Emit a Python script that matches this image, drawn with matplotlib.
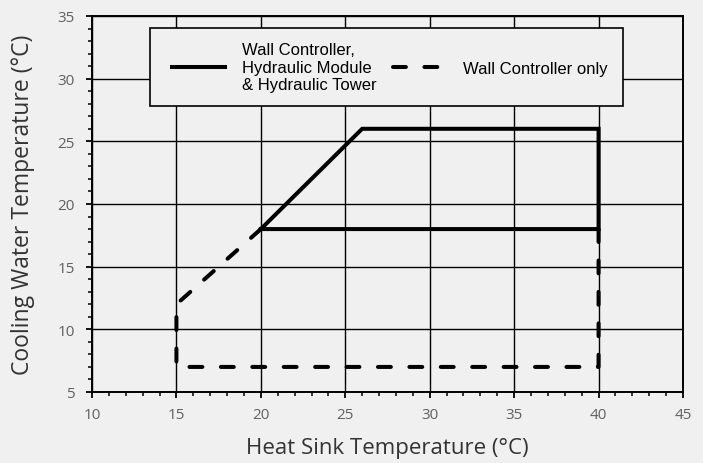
"""
Operating range: cooling water temperature vs heat sink temperature.
Output: out.png
"""

import matplotlib
matplotlib.use('Agg')
import matplotlib.pyplot as plt
from matplotlib.ticker import MultipleLocator
from matplotlib.lines import Line2D
from matplotlib.patches import Rectangle

# Envelope with wall controller + hydraulic module & tower (solid)
solid_x = [20, 26, 40, 40, 20]
solid_y = [18, 26, 26, 18, 18]

# Extended envelope with wall controller only (dashed)
dash_x = [40, 40, 15, 15, 20]
dash_y = [18, 7, 7, 12, 18]

x_ticks = [10, 15, 20, 25, 30, 35, 40, 45]
y_ticks = [5, 10, 15, 20, 25, 30, 35]

label_solid = "Wall Controller,\nHydraulic Module\n& Hydraulic Tower"
label_dash = "Wall Controller only"

BG = '#f0f0f0'
TICK_FONT = ['Open Sans', 'DejaVu Sans']
LEG_FONT = ['Liberation Sans', 'DejaVu Sans']

# pixel geometry of the axes (figure is 703 x 464 px)
AX_L, AX_R, AX_T, AX_B = 92, 683, 17, 393


def px_to_axes(px, py):
    return (px - AX_L) / (AX_R - AX_L), 1 - (py - AX_T) / (AX_B - AX_T)


def main():
    fig = plt.figure(figsize=(7.03, 4.64), dpi=100, facecolor=BG)
    ax = fig.add_axes([AX_L / 703, 1 - AX_B / 464,
                       (AX_R - AX_L) / 703, (AX_B - AX_T) / 464])
    ax.set_facecolor(BG)

    lw = 2.9
    dash = (3.2, 4.6)
    ax.plot(solid_x, solid_y, color='black', lw=lw, solid_joinstyle='miter',
            zorder=4)
    ax.plot(dash_x, dash_y, color='black', lw=lw, dashes=dash,
            dash_capstyle='round', zorder=4)

    ax.set_xlim(x_ticks[0], x_ticks[-1])
    ax.set_ylim(y_ticks[0], y_ticks[-1])
    ax.set_xticks(x_ticks)
    ax.set_yticks(y_ticks)
    ax.xaxis.set_minor_locator(MultipleLocator(1))
    ax.yaxis.set_minor_locator(MultipleLocator(1))
    ax.grid(True, which='major', color='black', lw=1.0)
    ax.set_axisbelow(True)

    for s in ax.spines.values():
        s.set_linewidth(1.4)
        s.set_color('black')
    ax.tick_params(which='major', length=4.5, width=1.3, color='black',
                   labelsize=11, labelcolor='#606060', pad=6)
    ax.tick_params(which='minor', length=3.2, width=1.1, color='black')
    ax.tick_params(axis='y', which='major', pad=8)
    for t in ax.get_xticklabels() + ax.get_yticklabels():
        t.set_family(TICK_FONT)

    ax.set_xlabel("Heat Sink Temperature (°C)", fontsize=16, color='#333333',
                  family=TICK_FONT, labelpad=11)
    ax.set_ylabel("Cooling Water Temperature (°C)", fontsize=16.5,
                  color='#333333', family=TICK_FONT, labelpad=16)

    # legend box
    bx0, by0 = px_to_axes(150, 107)
    bx1, by1 = px_to_axes(623, 29)
    ax.add_patch(Rectangle((bx0, by0), bx1 - bx0, by1 - by0,
                           transform=ax.transAxes, facecolor=BG,
                           edgecolor='black', lw=1.2, zorder=5))

    handles = [Line2D([], [], color='black', lw=lw),
               Line2D([], [], color='black', lw=lw, dashes=dash,
                      dash_capstyle='round')]
    lx, ly = px_to_axes(172, 68)
    leg = ax.legend(handles, [label_solid, label_dash], ncol=2,
                    loc='center left', bbox_to_anchor=(lx, ly),
                    bbox_transform=ax.transAxes,
                    prop={'family': LEG_FONT, 'size': 12},
                    handlelength=3.2, handletextpad=1.0, columnspacing=1.0,
                    borderpad=0, borderaxespad=0, frameon=False)
    leg.set_zorder(6)

    fig.savefig('out.png', dpi=100, facecolor=BG)
    plt.close(fig)


if __name__ == "__main__":
    main()
